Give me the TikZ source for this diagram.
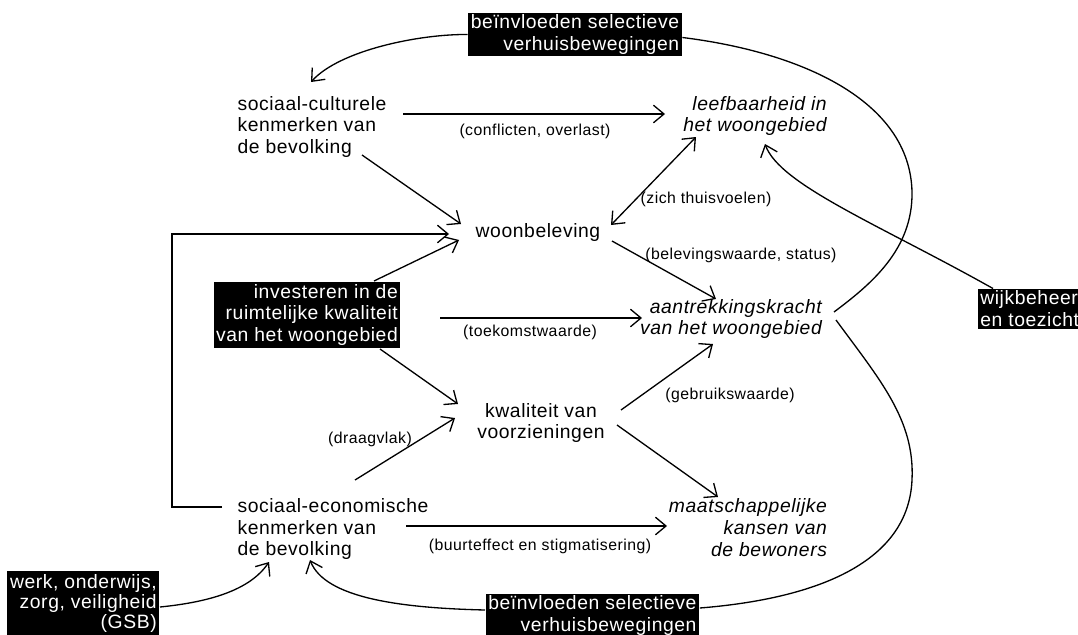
\documentclass[tikz,border=0pt]{standalone}
\usepackage{fontspec}
\setmainfont{Liberation Sans}[LetterSpace=3]
\usetikzlibrary{calc,arrows.meta}
\tikzset{
	txt/.style={font=\fontsize{11}{12.5}\selectfont, inner sep=0pt},
	itxt/.style={font=\fontsize{11}{12.5}\selectfont\itshape, inner sep=0pt},
	blackbox/.style={txt, fill=black, text=white, align=right, inner xsep=1.5pt, inner ysep=1pt},
	note/.style={font=\fontsize{9}{11}\selectfont, inner sep=0pt}
}

\begin{document}
\begin{tikzpicture}[x=0.02cm, y=-0.02cm, line width=0.75pt, >={Straight Barb[length=6pt,width=10pt]}]
	%%%%% START %%%%%
	\useasboundingbox (0,0) rectangle (1078,635);
	
	\node[blackbox] (top) at (575,34.5) {beïnvloeden selectieve\\verhuisbewegingen};
	\node[blackbox] (inv) at (307,315) {investeren in de\\ruimtelijke kwaliteit\\van het woongebied};
	\node[blackbox, anchor=north east, font=\fontsize{11}{11.5}\selectfont, inner ysep=2pt] (gsb) at (160,570) {werk, onderwijs,\\zorg, veiligheid\\(GSB)};
	\node[blackbox, anchor=north west] (bot) at (485,593) {beïnvloeden selectieve\\verhuisbewegingen};
	\node[blackbox, anchor=west, align=left] (wt) at (977,309) {wijkbeheer\\en toezicht};
	
	\node[txt, align=left] (sc) at (312,127) {sociaal-culturele\\kenmerken van\\de bevolking};
	\node[txt] (wb) at (538,233) {woonbeleving};
	\node[txt, align=center] (kv) at (541,423) {kwaliteit van\\voorzieningen};
	\node[txt, align=left] (se) at (333,529) {sociaal-economische\\kenmerken van\\de bevolking};
	
	\node[itxt, align=right] (lb) at (755,116) {leefbaarheid in\\het woongebied};
	\node[itxt, align=right] (ak) at (731,319) {aantrekkingskracht\\van het woongebied};
	\node[itxt, align=right] (mk) at (748,528) {maatschappelijke\\kansen van\\de bewoners};
	
	% labels
	\node[note] (lconf) at (535,131) {(conflicten, overlast)};
	\node[note] (lthuis) at (706,199) {(zich thuisvoelen)};
	\node[note] (lbelev) at (741,255) {(belevingswaarde, status)};
	\node[note] (ltoek) at (530,332) {(toekomstwaarde)};
	\node[note] (lgebr) at (730,395) {(gebruikswaarde)};
	\node[note] (ldraag) at (370,439) {(draagvlak)};
	\node[note] (lbuurt) at (540,546) {(buurteffect en stigmatisering)};
	
	\draw[->] ($(sc)+(91,-13)$) -- ($(lb)+(-90,-2)$);
	\draw[->] ($(sc)+(50,28)$) -- ($(wb)+(-77,-9)$);
	\draw[->] ($(se)+(-111,-22)$) -- ++(-50,0) |- ($(wb)+(-89,1)$);
	\draw[->] ($(inv)+(67,-34)$) -- ($(wb)+(-79,7)$);
	\draw[<->] ($(wb)+(73,-8)$) -- ($(lb)+(-59,21)$);
	\draw[->] ($(wb)+(74,8)$) -- ($(ak)+(-15,-20)$);
	\draw[->] ($(inv)+(133,3)$) -- ($(ak)+(-89,-1)$);
	\draw[->] ($(inv)+(73,34)$) -- ($(kv)+(-83,-19)$);
	\draw[->] ($(se)+(22,-49)$) -- ($(kv)+(-86,-5)$);
	\draw[->] ($(kv)+(80,-13)$) -- ($(ak)+(-18,25)$);
	\draw[->] ($(kv)+(76,2)$) -- ($(mk)+(-30,-31)$);
	\draw[->] ($(se)+(73,-3)$) -- ($(mk)+(-81,-2)$);
	
	\draw[->] (top.west) .. controls (420,34) and (340,50) .. ($(sc)+(-1,-45)$);
	\draw ($(top.east)+(0,3)$) .. controls (800,52) and (910,100) .. (912,192) .. controls (913,250) and (870,285) .. ($(ak)+(103,-7)$);
	\draw ($(ak)+(105,1)$) .. controls (880,380) and (915,420) .. (912,480) .. controls (908,570) and (800,600) .. ($(bot.north east)+(0,15)$);
	\draw[->] ($(bot.north west)+(0,17)$) .. controls (400,608) and (325,598) .. ($(se)+(-23,31)$);
	\draw[->] ($(gsb.north east)+(0,37)$) .. controls (210,602) and (250,590) .. ($(se)+(-64,33)$);
	\draw[->] ($(wt.north west)+(16,0)$) .. controls (880,225) and (780,185) .. ($(lb)+(10,28)$);
	
	%%%%% END %%%%%
\end{tikzpicture}
\end{document}
